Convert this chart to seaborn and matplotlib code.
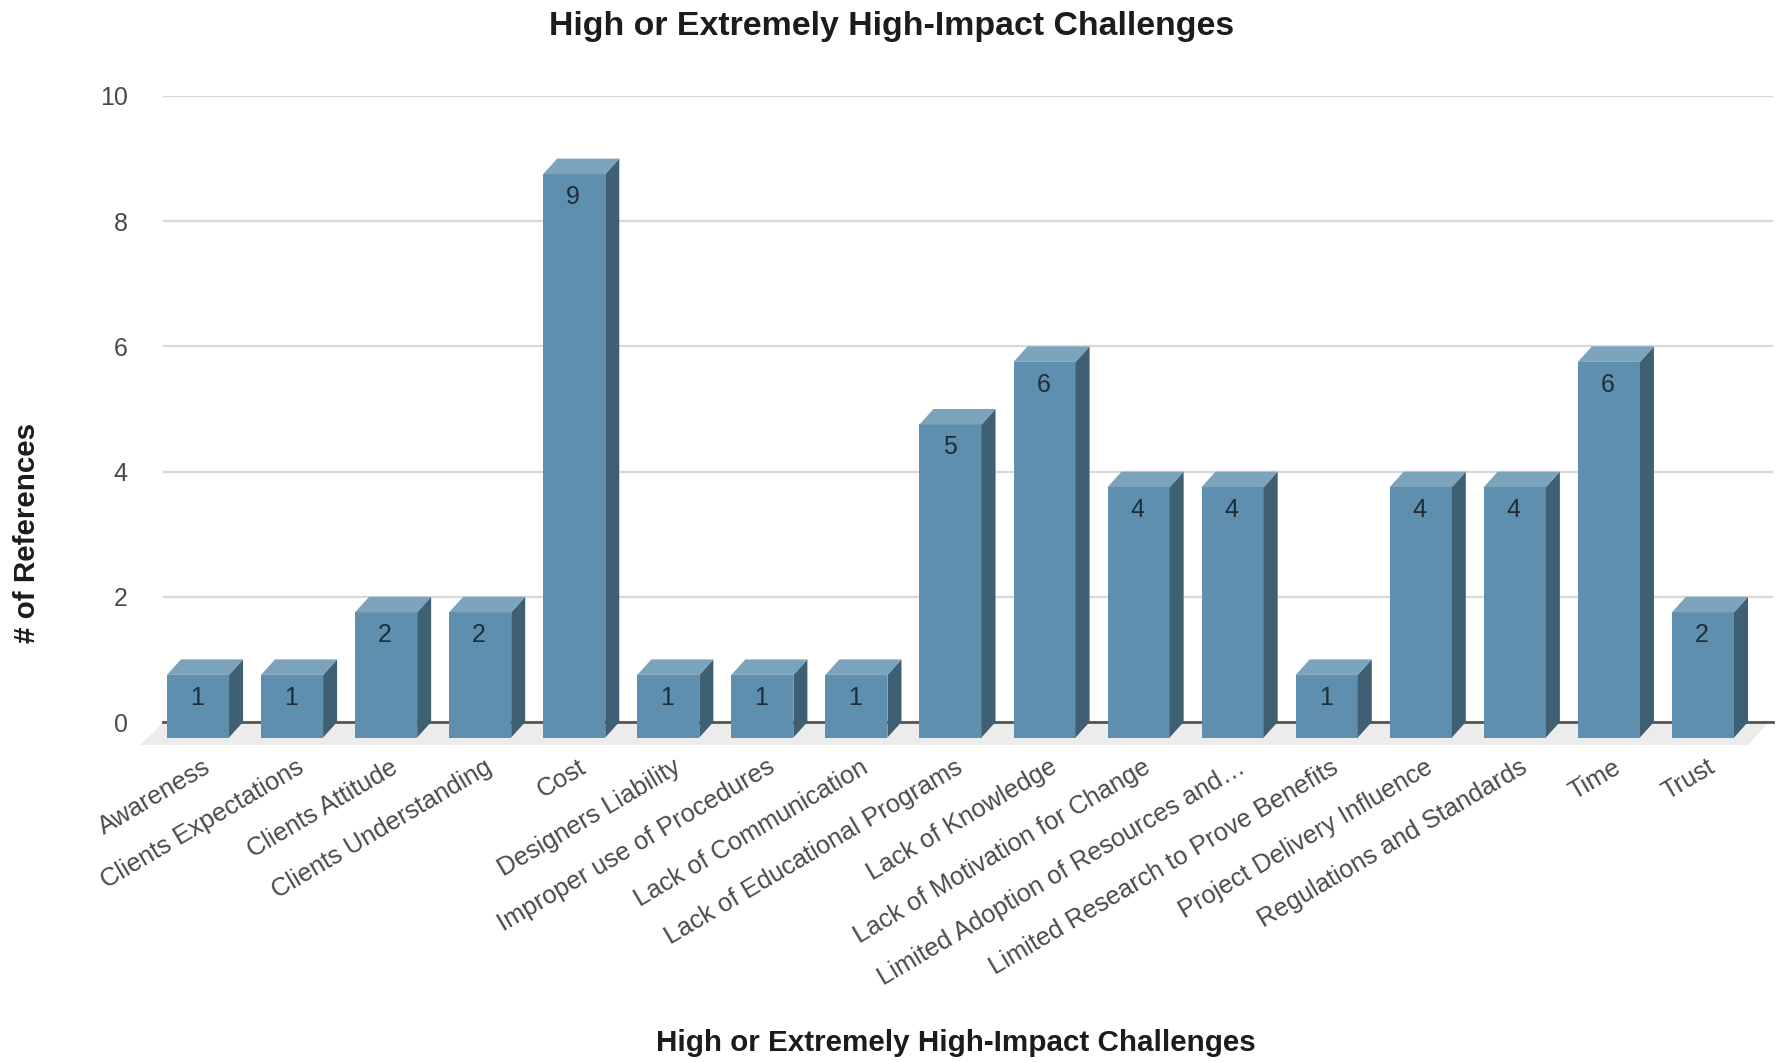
import matplotlib
matplotlib.use("Agg")
import matplotlib.pyplot as plt
from matplotlib.patches import Polygon
from matplotlib.transforms import Affine2D, ScaledTranslation
import pandas as pd
import seaborn as sns

categories = [
    "Awareness", "Clients Expectations", "Clients Attitude", "Clients Understanding",
    "Cost", "Designers Liability", "Improper use of Procedures", "Lack of Communication",
    "Lack of Educational Programs", "Lack of Knowledge", "Lack of Motivation for Change",
    "Limited Adoption of Resources and\u2026", "Limited Research to Prove Benefits",
    "Project Delivery Influence", "Regulations and Standards", "Time", "Trust",
]
references = [1, 1, 2, 2, 9, 1, 1, 1, 5, 6, 4, 4, 1, 4, 4, 6, 2]
y_ticks = [0, 2, 4, 6, 8, 10]

title_text = "High or Extremely High-Impact Challenges"
x_title = "High or Extremely High-Impact Challenges"
y_title = "# of References"

FRONT = "#5f8fae"
TOP = "#7ba3bc"
SIDE = "#3f5f73"
FLOOR = "#ececec"
GRID = "#d9d9d9"
AXIS = "#555555"
TICK_TEXT = "#4a4a4a"
TITLE_TEXT = "#1c1c1c"

W, H = 1778, 1062
DPI = 100
# depth of the extruded bars, in pixels
DX, DY = 14, 15.5

sns.set_theme(style="white")
plt.rcParams["font.family"] = ["Liberation Sans", "DejaVu Sans"]

fig = plt.figure(figsize=(W / DPI, H / DPI), dpi=DPI, facecolor="white")
left, right, top, bottom = 163, 1773, 96, 722
ax = fig.add_axes([left / W, 1 - bottom / H, (right - left) / W, (bottom - top) / H])

df = pd.DataFrame({"category": categories, "references": references})
sns.barplot(data=df, x="category", y="references", color=FRONT, saturation=1,
            width=0.66, ax=ax, zorder=3)

slot = 94.06
ax.set_xlim((left - 198) / slot, (right - 198) / slot)
ax.set_ylim(0, 10)
ax.set_yticks(y_ticks)
ax.grid(axis="y", color=GRID, linewidth=1.6, zorder=0)
ax.set_axisbelow(True)
for name, spine in ax.spines.items():
    spine.set_visible(name == "bottom")
ax.spines["bottom"].set_color(AXIS)
ax.spines["bottom"].set_linewidth(2)
ax.spines["bottom"].set_zorder(1.5)

ax.tick_params(axis="y", length=0, pad=25.5, labelsize=18, labelcolor=TICK_TEXT)
ax.tick_params(axis="x", length=0, pad=0)
ax.set_xticks(range(len(categories)))
ax.set_xticklabels(categories, rotation=30.5, ha="right", va="top",
                   rotation_mode="anchor", fontsize=18.4, color=TICK_TEXT)
label_shift = ScaledTranslation(4 / DPI, -33 / DPI, fig.dpi_scale_trans)
for tick_label in ax.get_xticklabels():
    tick_label.set_transform(tick_label.get_transform() + label_shift)

# Floor under the bars, drawn in pixel space
px = Affine2D()
floor = Polygon([(left, H - 723), (1768, H - 723), (1748, H - 745), (140, H - 745)],
                closed=True, facecolor=FLOOR, edgecolor="none",
                transform=px, zorder=1, clip_on=False)
ax.add_patch(floor)

# The front faces sit below the value plane; top and side faces
# close the gap back to the value height on the axis.
to_px = ax.transData
front_shift = Affine2D().translate(0, -DY)
for bar, value in zip(ax.patches[:], references):
    x0 = bar.get_x()
    x1 = x0 + bar.get_width()
    (px0, py0), (px1, py1) = to_px.transform([(x0, 0), (x1, value)])
    bar.set_transform(to_px + front_shift)
    bar.set_clip_on(False)
    bar.set_edgecolor("none")
    side = Polygon([(px1, py0 - DY), (px1 + DX, py0), (px1 + DX, py1), (px1, py1 - DY)],
                   closed=True, facecolor=SIDE, edgecolor="none", transform=px,
                   zorder=3, clip_on=False)
    cap = Polygon([(px0, py1 - DY), (px1, py1 - DY), (px1 + DX, py1), (px0 + DX, py1)],
                  closed=True, facecolor=TOP, edgecolor="none", transform=px,
                  zorder=3, clip_on=False)
    ax.add_patch(side)
    ax.add_patch(cap)
    ax.annotate(f"{value}", xy=((x0 + x1) / 2, value), xytext=(-1, -DY - 23),
                textcoords="offset pixels", ha="center", va="center",
                fontsize=18, color="#1f2d38", zorder=5)

ax.set_xlabel("")
ax.set_ylabel("")
fig.text(892 / W, 1 - 26 / H, title_text, ha="center", va="center",
         fontsize=24.4, fontweight="bold", color=TITLE_TEXT)
fig.text(956 / W, 1 - 1043 / H, x_title, ha="center", va="center",
         fontsize=21.3, fontweight="bold", color=TITLE_TEXT)
fig.text(27 / W, 1 - 533 / H, y_title, ha="center", va="center", rotation=90,
         fontsize=21.3, fontweight="bold", color=TITLE_TEXT)

fig.savefig("out.png", dpi=DPI, facecolor="white")
